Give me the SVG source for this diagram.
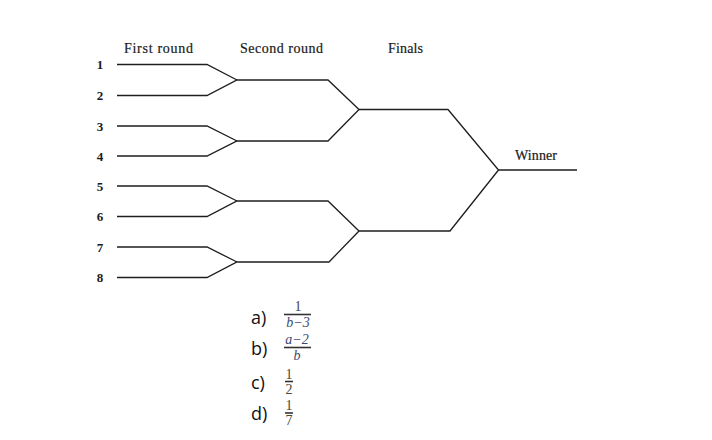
<svg xmlns="http://www.w3.org/2000/svg" width="712" height="440" viewBox="0 0 712 440">
<style>
.ln{fill:none;stroke:#1e1e1e;stroke-width:1.3;stroke-linejoin:miter}
.hd{font-family:"Liberation Serif",serif;font-size:14px;fill:#1a1a1a;stroke:#1a1a1a;stroke-width:0.2}
.num{font-family:"Liberation Serif",serif;font-size:13px;font-weight:bold;fill:#1a1a1a;text-anchor:middle}
.opt{font-family:"Open Sans","Liberation Sans",sans-serif;font-size:18px;fill:#111}
.fd{font-family:"Liberation Serif",serif;font-size:14px;fill:#4a4536;text-anchor:middle}
.fl{font-family:"Liberation Serif",serif;font-size:14px;font-style:italic;fill:#3c4a72;text-anchor:middle}
.bar{stroke:#333;stroke-width:1.6}
</style>
<rect width="712" height="440" fill="#fff"/>
<g id="headers">
<text class="hd" x="124" y="53" textLength="69" lengthAdjust="spacing">First round</text>
<text class="hd" x="240" y="53" textLength="83" lengthAdjust="spacing">Second round</text>
<text class="hd" x="388" y="53" textLength="35" lengthAdjust="spacing">Finals</text>
<text class="hd" x="515" y="160" textLength="42" lengthAdjust="spacing">Winner</text>
</g>
<g id="players">
<text class="num" x="100" y="69">1</text>
<text class="num" x="100" y="100">2</text>
<text class="num" x="100" y="131">3</text>
<text class="num" x="100" y="161">4</text>
<text class="num" x="100" y="191">5</text>
<text class="num" x="100" y="221">6</text>
<text class="num" x="100" y="252">7</text>
<text class="num" x="100" y="282">8</text>
</g>
<g id="connectors">
<path class="ln" d="M117,64.5 H207 L237,80 M117,95.5 H207 L237,80 H328 L359,109.5"/>
<path class="ln" d="M117,126 H207 L237,141 M117,156 H207 L237,141 H328 L359,109.5"/>
<path class="ln" d="M117,186 H207 L237,201 M117,216.5 H207 L237,201 H328 L359,231"/>
<path class="ln" d="M117,247 H207 L237,262 M117,277.5 H207 L237,262 H329 L359,231"/>
<path class="ln" d="M359,109.5 H448 L498.5,170 M359,231 H450 L498.5,170 H577"/>
</g>
<g id="options">
<text class="opt" x="251" y="324">a)</text>
<text class="fd" x="298" y="311">1</text>
<line class="bar" x1="284" y1="314.5" x2="311" y2="314.5"/>
<text class="fl" x="298" y="327">b−3</text>
<text class="opt" x="251" y="355">b)</text>
<text class="fl" x="297" y="344">a−2</text>
<line class="bar" x1="284" y1="347.5" x2="311" y2="347.5"/>
<text class="fl" x="297" y="360">b</text>
<text class="opt" x="251" y="389">c)</text>
<text class="fd" x="289" y="379">1</text>
<line class="bar" x1="285" y1="381.5" x2="293" y2="381.5"/>
<text class="fd" x="289" y="394">2</text>
<text class="opt" x="251" y="420">d)</text>
<text class="fd" x="289" y="410">1</text>
<line class="bar" x1="285" y1="413" x2="293" y2="413"/>
<text class="fd" x="289" y="425">7</text>
</g>
</svg>
